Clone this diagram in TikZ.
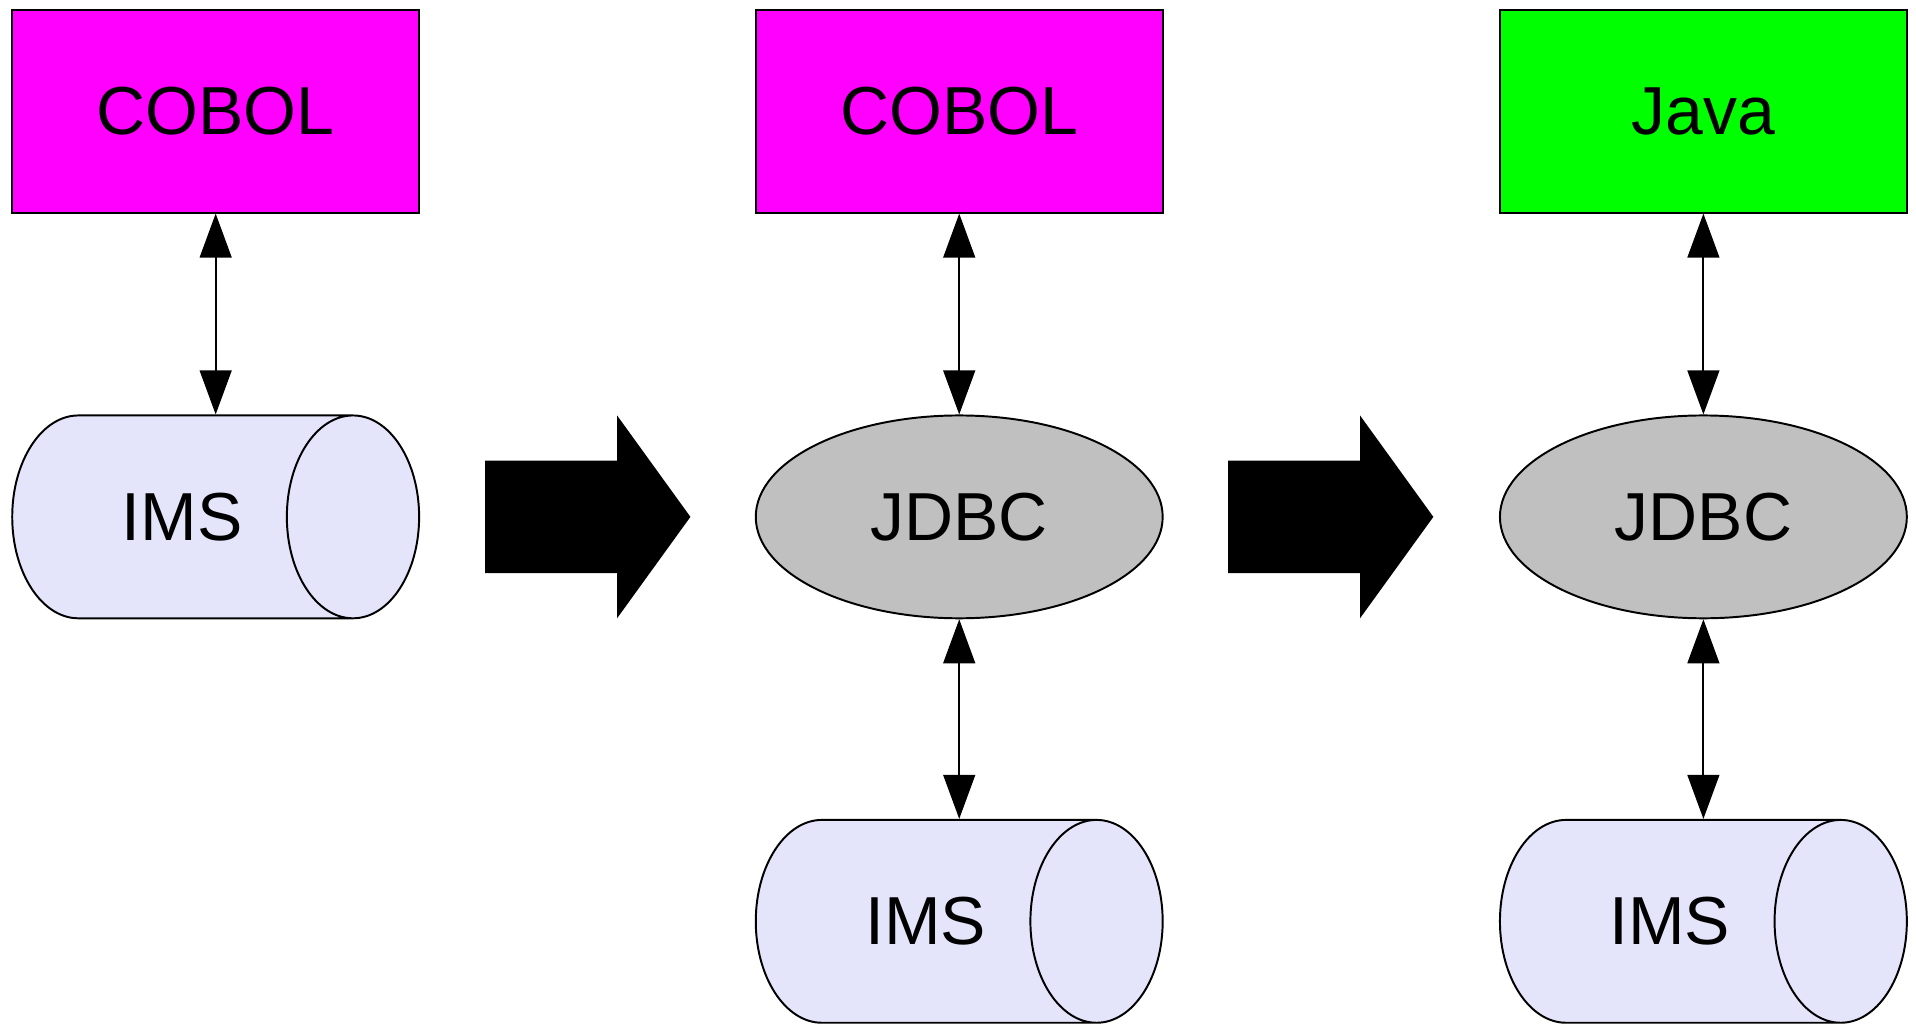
\documentclass[tikz,border=0pt]{standalone}
\usepackage{fontspec}
\setmainfont{Liberation Sans}
\usepackage{tikz}
\usetikzlibrary{shapes.geometric}
\usetikzlibrary{arrows.meta}
\usetikzlibrary{positioning}

\definecolor{imsfill}{RGB}{228,228,250}
\definecolor{jdbcfill}{RGB}{192,192,192}
\definecolor{cobolfill}{RGB}{255,0,255}
\definecolor{javafill}{RGB}{0,255,0}

\begin{document}
\begin{tikzpicture}[x=0.5pt,y=0.5pt,yscale=-1,xscale=1,
    every node/.style={font=\fontsize{27.8}{33}\selectfont, line width=0.8pt, inner sep=0pt},
    langbox/.style={draw, rectangle, minimum width=166.5pt, minimum height=83pt},
    jdbc/.style={draw, ellipse, fill=jdbcfill, minimum width=166.5pt, minimum height=83pt},
    ims/.style={draw, cylinder, fill=imsfill, aspect=2.75, minimum height=166.5pt, minimum width=83pt, anchor=shape center},
    link/.style={line width=0.8pt, {Triangle[length=18pt,width=13pt]}-{Triangle[length=18pt,width=13pt]}}]
            \useasboundingbox (0,0) rectangle (1568,838);

            %Shape: Rectangle [cobolA]
            \node [langbox, fill=cobolfill] (cobolA) at (176.5,91) {COBOL};
            %Shape: Cylinder [imsA]
            \node [ims] (imsA) at (176.5,423) {IMS};

            %Shape: Rectangle [cobolB]
            \node [langbox, fill=cobolfill] (cobolB) at (785,91) {COBOL};
            %Shape: Ellipse [jdbcB]
            \node [jdbc] (jdbcB) at (785,423) {JDBC};
            %Shape: Cylinder [imsB]
            \node [ims] (imsB) at (785,754) {IMS};

            %Shape: Rectangle [javaC]
            \node [langbox, fill=javafill] (javaC) at (1394,91) {Java};
            %Shape: Ellipse [jdbcC]
            \node [jdbc] (jdbcC) at (1394,423) {JDBC};
            %Shape: Cylinder [imsC]
            \node [ims] (imsC) at (1394,754) {IMS};

            %Straight Lines
            \draw [link] (cobolA.south) -- (cobolA.south |- imsA.north);
            \draw [link] (cobolB.south) -- (jdbcB.north);
            \draw [link] (jdbcB.south) -- (jdbcB.south |- imsB.north);
            \draw [link] (javaC.south) -- (jdbcC.north);
            \draw [link] (jdbcC.south) -- (jdbcC.south |- imsC.north);

            %Shape: Right Arrow
            \fill (397,377) -- (505,377) -- (505,340) -- (565,423) -- (505,506) -- (505,469) -- (397,469) -- cycle ;
            %Shape: Right Arrow
            \fill (1005,377) -- (1113,377) -- (1113,340) -- (1173,423) -- (1113,506) -- (1113,469) -- (1005,469) -- cycle ;

\end{tikzpicture}
\end{document}
